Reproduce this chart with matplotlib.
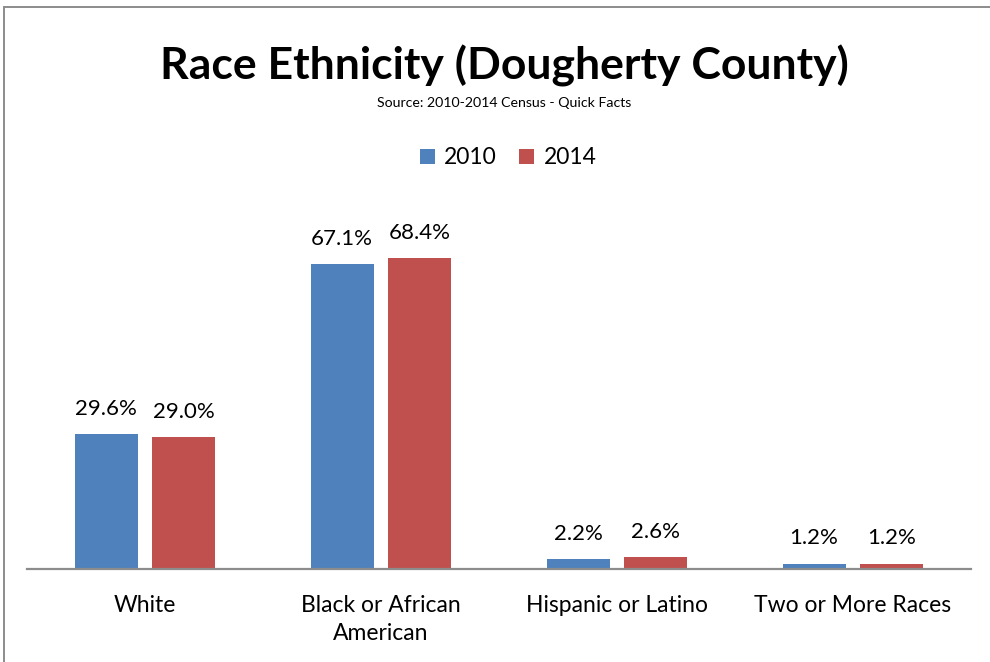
import matplotlib.pyplot as plt
import numpy as np
from matplotlib.lines import Line2D

plt.rcParams['font.family'] = ['Lato', 'DejaVu Sans']

# data
categories = ['White', 'Black or African\nAmerican', 'Hispanic or Latino', 'Two or More Races']
years = ['2010', '2014']
vals_2010 = [29.6, 67.1, 2.2, 1.2]
vals_2014 = [29.0, 68.4, 2.6, 1.2]

blue = '#4F81BD'
red = '#C0504D'

fig = plt.figure(figsize=(9.9, 6.62), dpi=100)
ax = fig.add_axes([27 / 990, 93 / 662, 944 / 990, 363.6 / 662])

x = np.arange(len(categories))
w = 0.267
off = 0.165
b1 = ax.bar(x - off, vals_2010, w, color=blue, label=years[0])
b2 = ax.bar(x + off, vals_2014, w, color=red, label=years[1])

for bars in (b1, b2):
    for b in bars:
        ax.annotate('%.1f%%' % b.get_height(),
                    (b.get_x() + b.get_width() / 2, b.get_height()),
                    xytext=(0, 11), textcoords='offset points',
                    ha='center', va='bottom', fontsize=16)

ax.set_xlim(-0.5, len(categories) - 0.5)
ax.set_ylim(0, 80)
ax.set_yticks([])
ax.set_xticks(x)
ax.set_xticklabels(categories, fontsize=16.5, linespacing=1.4, va='top')
ax.tick_params(axis='x', length=0, pad=19)
for s in ['top', 'right', 'left']:
    ax.spines[s].set_visible(False)
ax.spines['bottom'].set_color('#8c8c8c')
ax.spines['bottom'].set_linewidth(1.6)

fig.text(504 / 990, 1 - 66 / 662, 'Race Ethnicity (Dougherty County)',
         ha='center', va='center', fontsize=32, fontweight='bold')
fig.text(504 / 990, 1 - 103 / 662, 'Source: 2010-2014 Census - Quick Facts',
         ha='center', va='center', fontsize=10.2)

fig.legend(loc='center', bbox_to_anchor=(508 / 990, 1 - 158 / 662), ncol=2,
           frameon=False, fontsize=16.5, handlelength=0.65, handleheight=0.65,
           handletextpad=0.4, columnspacing=1.0)

# outer chart border, only top and left edges show
fig.lines.append(Line2D([4 / 990, 4 / 990], [0, 1 - 7 / 662], transform=fig.transFigure,
                        color='#8c8c8c', linewidth=1.4))
fig.lines.append(Line2D([4 / 990, 1.02], [1 - 7 / 662, 1 - 7 / 662], transform=fig.transFigure,
                        color='#8c8c8c', linewidth=1.4, solid_capstyle='butt'))

plt.savefig('out.png')
